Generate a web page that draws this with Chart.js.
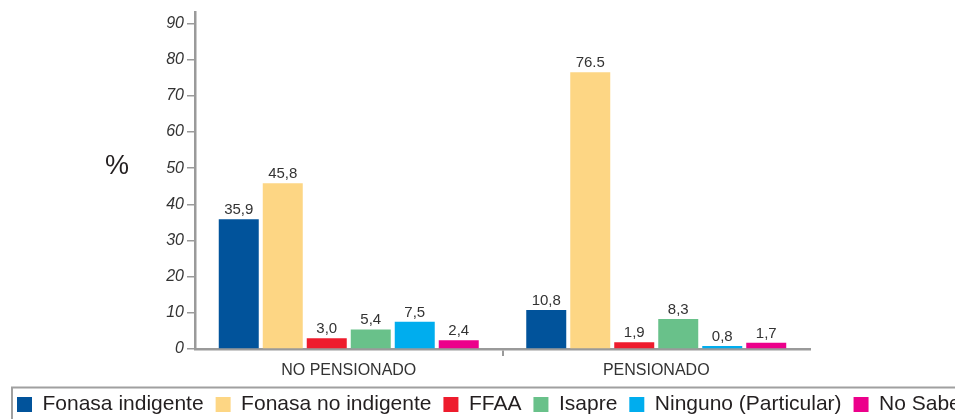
<!DOCTYPE html>
<html><head><meta charset="utf-8">
<script src="https://cdn.jsdelivr.net/npm/chart.js@4"></script>
<style>
html,body{margin:0;padding:0;overflow:hidden;background:#fff;width:955px;height:419px}
#wrap{position:relative;width:1000px;height:425px}
</style></head>
<body><div id="wrap"><canvas id="c" width="1000" height="425"></canvas></div>
<script>
const categories = ['NO PENSIONADO', 'PENSIONADO'];
const seriesNames = ['Fonasa indigente', 'Fonasa no indigente', 'FFAA', 'Isapre', 'Ninguno (Particular)', 'No Sabe'];
const fonasaIndigente   = [35.9, 10.8];
const fonasaNoIndigente = [45.8, 76.5];
const ffaa              = [3.0, 1.9];
const isapre            = [5.4, 8.3];
const ninguno           = [7.5, 0.8];
const noSabe            = [2.4, 1.7];
const fonasaIndigenteLabels   = ['35,9', '10,8'];
const fonasaNoIndigenteLabels = ['45,8', '76.5'];
const ffaaLabels              = ['3,0', '1,9'];
const isapreLabels            = ['5,4', '8,3'];
const ningunoLabels           = ['7,5', '0,8'];
const noSabeLabels            = ['2,4', '1,7'];
const yTicks = [0, 10, 20, 30, 40, 50, 60, 70, 80, 90];
const yAxisTitle = '%';

const seriesValues = [fonasaIndigente, fonasaNoIndigente, ffaa, isapre, ninguno, noSabe];
const seriesLabels = [fonasaIndigenteLabels, fonasaNoIndigenteLabels, ffaaLabels, isapreLabels, ningunoLabels, noSabeLabels];
const colors = ['#01539b', '#fdd684', '#ee1c2d', '#69c18a', '#00adee', '#ec008b'];
const FONT = "'Liberation Sans', Arial, Helvetica, sans-serif";
const AXIS = '#9a9a9a';

const extras = {
  id: 'extras',
  afterDatasetsDraw(chart) {
    const ctx = chart.ctx;
    ctx.save();
    ctx.font = '15px ' + FONT;
    ctx.fillStyle = '#333333';
    ctx.textAlign = 'center';
    ctx.textBaseline = 'alphabetic';
    chart.data.datasets.forEach((ds, i) => {
      chart.getDatasetMeta(i).data.forEach((bar, j) => {
        ctx.fillText(seriesLabels[i][j], bar.x, bar.y - 5);
      });
    });
    ctx.restore();
  },
  afterDraw(chart) {
    const ctx = chart.ctx;
    ctx.save();
    ctx.font = '27px ' + FONT;
    ctx.fillStyle = '#231f20';
    ctx.textAlign = 'center';
    ctx.textBaseline = 'middle';
    ctx.fillText(yAxisTitle, 117, 167);
    // legend frame
    ctx.strokeStyle = '#a0a0a0';
    ctx.lineWidth = 2;
    ctx.beginPath();
    ctx.moveTo(12, 440);
    ctx.lineTo(12, 387.5);
    ctx.lineTo(1000, 387.5);
    ctx.stroke();
    ctx.restore();
  }
};

new Chart(document.getElementById('c'), {
  type: 'bar',
  data: {
    labels: categories,
    datasets: seriesNames.map((name, i) => ({
      label: name,
      data: seriesValues[i],
      backgroundColor: colors[i],
      borderWidth: 0,
      categoryPercentage: 0.8585,
      barPercentage: 0.909,
      yAxisID: 'y'
    }))
  },
  options: {
    responsive: false,
    devicePixelRatio: 1,
    animation: false,
    layout: { padding: { left: 5, top: 12, right: 0, bottom: 0 } },
    plugins: {
      tooltip: { enabled: false },
      legend: {
        position: 'bottom',
        align: 'start',
        labels: {
          boxWidth: 15, boxHeight: 15, padding: 12,
          color: '#231f20',
          font: { family: FONT, size: 21 }
        }
      }
    },
    scales: {
      x: {
        grid: {
          drawOnChartArea: false,
          tickLength: 7,
          lineWidth: 2,
          color: (c) => c.index === 1 ? AXIS : 'rgba(0,0,0,0)'
        },
        border: { color: AXIS, width: 2.5 },
        ticks: { color: '#333333', padding: 5, font: { family: FONT, size: 16 } },
        afterFit(s) { s.height = 33; }
      },
      y: {
        min: 0, max: 93,
        grid: { drawOnChartArea: false, tickLength: 8, lineWidth: 1.5, color: AXIS },
        border: { color: AXIS, width: 2.5 },
        ticks: {
          stepSize: 10, padding: 3, color: '#333333',
          font: { family: FONT, size: 16, style: 'italic' }
        },
        afterBuildTicks(s) { s.ticks = yTicks.map(v => ({ value: v })); },
        afterFit(s) { s.width = 190; }
      },
      yRight: {
        position: 'right',
        display: true,
        grid: { display: false },
        border: { display: false },
        ticks: { display: false },
        afterFit(s) { s.width = 190; }
      }
    }
  },
  plugins: [extras]
});
</script>
</body></html>
